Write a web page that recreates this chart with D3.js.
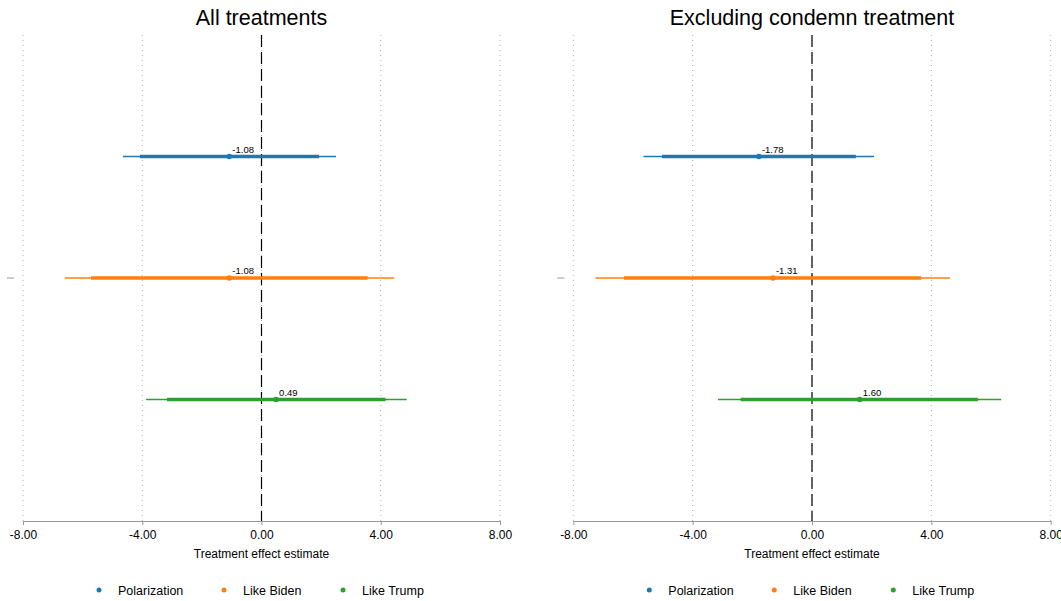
<!DOCTYPE html>
<html>
<head>
<meta charset="utf-8">
<script src="https://cdn.jsdelivr.net/npm/d3@7/dist/d3.min.js"></script>
<style>
  html, body { margin: 0; padding: 0; background: #fff; }
  svg { display: block; font-family: "Liberation Sans", Arial, sans-serif; }
</style>
</head>
<body>
<svg id="chart" width="1061" height="601"></svg>
<script>
// Outcomes shown in each panel
const outcomes = ["Polarization", "Like Biden", "Like Trump"];
const colors = ["#1f77b4", "#ff7f0e", "#2ca02c"];

// Panel titles
const panelTitles = ["All treatments", "Excluding condemn treatment"];

// Point estimates per panel (same order as outcomes)
const estAll = [-1.08, -1.08, 0.49];
const estExcl = [-1.78, -1.31, 1.60];

// 95% intervals (thin lines)
const lo95All = [-4.65, -6.60, -3.87];
const hi95All = [2.50, 4.45, 4.87];
const lo95Excl = [-5.65, -7.26, -3.15];
const hi95Excl = [2.08, 4.62, 6.34];

// 90% intervals (thick lines)
const lo90All = [-4.08, -5.72, -3.17];
const hi90All = [1.93, 3.56, 4.16];
const lo90Excl = [-5.03, -6.30, -2.39];
const hi90Excl = [1.47, 3.66, 5.56];

// x-axis ticks
const xTicks = [-8, -4, 0, 4, 8];
const xTitle = "Treatment effect estimate";

const panels = [
  { title: panelTitles[0], est: estAll, lo95: lo95All, hi95: hi95All, lo90: lo90All, hi90: hi90All, x0: 23, x1: 500 },
  { title: panelTitles[1], est: estExcl, lo95: lo95Excl, hi95: hi95Excl, lo90: lo90Excl, hi90: hi90Excl, x0: 573.3, x1: 1050.7 }
];

// Two-decimal format with a plain hyphen for negatives
const fmt = d3.formatLocale({ decimal: ".", thousands: ",", grouping: [3], currency: ["", ""], minus: "-" }).format(".2f");

const svg = d3.select("#chart");
const plotTop = 35, plotBottom = 521;

panels.forEach((p, pi) => {
  const g = svg.append("g");
  const x = d3.scaleLinear().domain([-8, 8]).range([p.x0, p.x1]);
  const y = d3.scaleLinear().domain([0, 4]).range([plotTop, plotBottom]);

  // Title
  g.append("text")
    .attr("x", x(0)).attr("y", 25)
    .attr("text-anchor", "middle")
    .attr("font-size", 21.5)
    .attr("fill", "#000")
    .text(p.title);

  // Dotted vertical gridlines
  g.selectAll("line.grid").data(xTicks).enter().append("line")
    .attr("class", "grid")
    .attr("x1", d => x(d)).attr("x2", d => x(d))
    .attr("y1", plotTop).attr("y2", plotBottom)
    .attr("stroke", "#b0b0b0")
    .attr("stroke-width", 1)
    .attr("stroke-dasharray", "1,4");

  // Zero reference line
  g.append("line")
    .attr("x1", x(0)).attr("x2", x(0))
    .attr("y1", plotTop).attr("y2", plotBottom)
    .attr("stroke", "#000")
    .attr("stroke-width", 1.2)
    .attr("stroke-dasharray", "12,5");

  // x axis
  const axis = d3.axisBottom(x).tickValues(xTicks).tickFormat(fmt).tickSize(4).tickSizeOuter(0);
  const ax = g.append("g").attr("transform", `translate(0,${plotBottom})`).call(axis);
  ax.select(".domain").attr("stroke", "#999");
  ax.selectAll(".tick line").attr("stroke", "#999");
  ax.selectAll(".tick text").attr("font-size", 12).attr("fill", "#000").attr("dy", "0.95em")
    .attr("font-family", "'Liberation Sans', Arial, sans-serif");

  g.append("text")
    .attr("x", x(0)).attr("y", 558)
    .attr("text-anchor", "middle")
    .attr("font-size", 12)
    .attr("fill", "#000")
    .text(xTitle);

  // y-axis stub tick at the middle row
  g.append("line")
    .attr("x1", p.x0 - 16).attr("x2", p.x0 - 9)
    .attr("y1", y(2)).attr("y2", y(2))
    .attr("stroke", "#999").attr("stroke-width", 1);

  // Intervals and estimates
  outcomes.forEach((o, i) => {
    const yy = y(i + 1);
    g.append("line")
      .attr("x1", x(p.lo95[i])).attr("x2", x(p.hi95[i]))
      .attr("y1", yy).attr("y2", yy)
      .attr("stroke", colors[i]).attr("stroke-width", 1.5);
    g.append("line")
      .attr("x1", x(p.lo90[i])).attr("x2", x(p.hi90[i]))
      .attr("y1", yy).attr("y2", yy)
      .attr("stroke", colors[i]).attr("stroke-width", 3.5);
    g.append("circle")
      .attr("cx", x(p.est[i])).attr("cy", yy).attr("r", 2.8)
      .attr("fill", colors[i]);
    g.append("text")
      .attr("x", x(p.est[i]) + 3).attr("y", yy - 4)
      .attr("font-size", 9.5)
      .attr("fill", "#000")
      .text(fmt(p.est[i]));
  });

  // Legend
  const legX = [99, 224, 343].map(v => v + (p.x0 - 23));
  outcomes.forEach((o, i) => {
    g.append("circle")
      .attr("cx", legX[i]).attr("cy", 590).attr("r", 2.5)
      .attr("fill", colors[i]);
    g.append("text")
      .attr("x", legX[i] + 19).attr("y", 594.5)
      .attr("font-size", 12.5)
      .attr("fill", "#000")
      .text(o);
  });
});
</script>
</body>
</html>
